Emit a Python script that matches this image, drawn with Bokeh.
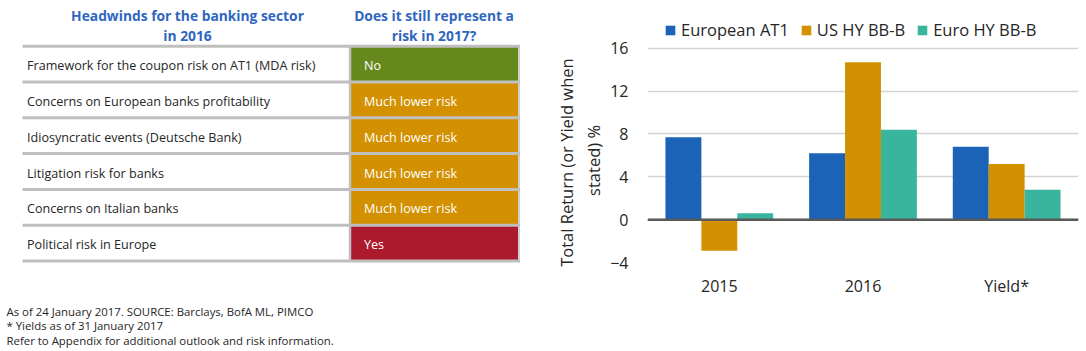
from bokeh.plotting import figure
from bokeh.models import (Range1d, FactorRange, Legend, LegendItem, Span,
                          ColumnDataSource, FixedTicker)
from bokeh.layouts import row
from bokeh.transform import dodge
from bokeh.core.properties import value
from bokeh.embed import file_html
from bokeh.resources import INLINE

FONT = "Open Sans"

# ---------------- table data ----------------
headwinds = [
    "Framework for the coupon risk on AT1 (MDA risk)",
    "Concerns on European banks profitability",
    "Idiosyncratic events (Deutsche Bank)",
    "Litigation risk for banks",
    "Concerns on Italian banks",
    "Political risk in Europe",
]
risk_2017 = ["No", "Much lower risk", "Much lower risk", "Much lower risk",
             "Much lower risk", "Yes"]
risk_colors = ["#66891e", "#d39000", "#d39000", "#d39000", "#d39000", "#ab1a2d"]
header_left = ["Headwinds for the banking sector", "in 2016"]
header_right = ["Does it still represent a", "risk in 2017?"]
footnotes = [
    "As of 24 January 2017. SOURCE: Barclays, BofA ML, PIMCO",
    "* Yields as of 31 January 2017",
    "Refer to Appendix for additional outlook and risk information.",
]

# ---------------- chart data ----------------
categories = ["2015", "2016", "Yield*"]
series_names = ["European AT1", "US HY BB-B", "Euro HY BB-B"]
european_at1 = [7.7, 6.2, 6.8]
us_hy_bb_b = [-2.9, 14.7, 5.2]
euro_hy_bb_b = [0.6, 8.4, 2.8]
series_colors = ["#1a63b7", "#d39000", "#3ab59d"]
y_ticks = [-4, 0, 4, 8, 12, 16]
y_label_lines = ["Total  Return  (or Yield when", "stated)  %"]

# ---------------- table figure ----------------
TW, H = 545, 351
t = figure(width=TW, height=H, x_range=Range1d(0, TW), y_range=Range1d(H, 0),
           toolbar_location=None, output_backend="svg", min_border=0)
t.outline_line_color = None
t.axis.visible = False
t.grid.visible = False
t.frame_align = False

row_top, row_h = 45.7, 35.8
n = len(headwinds)
tops = [row_top + i * row_h for i in range(n)]
bots = [tp + row_h for tp in tops]
mids = [tp + row_h / 2 + 1.5 for tp in tops]
bounds = [row_top + i * row_h for i in range(n + 1)]
cell_l, cell_r = 350.0, 517.5

t.quad(left=cell_l, right=cell_r, top=tops, bottom=bots,
       fill_color=risk_colors, line_color=None)
t.segment(x0=22, x1=519.5, y0=bounds, y1=bounds,
          line_color="#bfbfbf", line_width=3)
t.segment(x0=[cell_l - 0.5, cell_r + 1], x1=[cell_l - 0.5, cell_r + 1],
          y0=row_top, y1=bounds[-1], line_color="#bfbfbf", line_width=[2.5, 1.5])

t.text(x=26.5, y=mids, text=headwinds, text_font=value(FONT),
       text_font_size="12.6px", text_baseline="middle", text_color="#262626")
t.text(x=363.5, y=mids, text=risk_2017, text_font=value(FONT),
       text_font_size="12.6px", text_baseline="middle", text_color="white")
t.text(x=187, y=[14.5, 35], text=header_left, text_font=value(FONT),
       text_font_size="13.8px", text_font_style="bold", text_align="center",
       text_baseline="middle", text_color="#2e66c0")
t.text(x=433.5, y=[14.5, 35], text=header_right, text_font=value(FONT),
       text_font_size="13.8px", text_font_style="bold", text_align="center",
       text_baseline="middle", text_color="#2e66c0")
t.text(x=6, y=[310.7, 324.5, 340], text=footnotes, text_font=value(FONT),
       text_font_size="11.4px", text_baseline="middle", text_color="#262626")

# ---------------- chart figure ----------------
CW = 1086 - TW
FRAME_TOP, FRAME_BOTTOM = 15, 261.7
PX_PER_UNIT = (261.7 - 47.7) / 20.0
y_max = 16 + (47.7 - FRAME_TOP) / PX_PER_UNIT

p = figure(width=CW, height=H, x_range=FactorRange(*categories, range_padding=0),
           y_range=Range1d(-4, y_max), toolbar_location=None, output_backend="svg",
           min_border_left=102, min_border_right=8, min_border_top=FRAME_TOP,
           min_border_bottom=int(round(H - FRAME_BOTTOM)))
p.outline_line_color = None
p.frame_align = False

src = ColumnDataSource(dict(cat=categories, a=european_at1, b=us_hy_bb_b,
                            c=euro_hy_bb_b))
renderers = []
for col, off, colr in zip(["a", "b", "c"], [-0.25, 0.0, 0.25], series_colors):
    r = p.vbar(x=dodge("cat", off, range=p.x_range), top=col, width=0.25,
               source=src, fill_color=colr, line_color=None)
    renderers.append(r)

p.add_layout(Span(location=0, dimension="width", line_color="#595959",
                  line_width=2.5))

p.xgrid.grid_line_color = None
p.ygrid.grid_line_color = "#d4d4d4"
p.ygrid.grid_line_width = 1.5
p.yaxis.ticker = FixedTicker(ticks=y_ticks)

for ax in (p.xaxis, p.yaxis):
    ax.axis_line_color = None
    ax.major_tick_line_color = None
    ax.minor_tick_line_color = None
    ax.major_tick_out = 0
    ax.major_tick_in = 0
    ax.minor_tick_out = 0
    ax.major_label_text_font = FONT
    ax.major_label_text_font_size = "16px"
    ax.major_label_text_color = "#262626"

p.xaxis.major_label_standoff = 12
p.yaxis.major_label_standoff = 19
# non-breaking padding at the end of each line nudges the centred label down
pad = "\u00a0" * 9
p.yaxis.axis_label = "\n".join(line + pad for line in y_label_lines)
p.yaxis.axis_label_text_font = FONT
p.yaxis.axis_label_text_font_size = "16.5px"
p.yaxis.axis_label_text_font_style = "normal"
p.yaxis.axis_label_text_color = "#262626"
p.yaxis.axis_label_standoff = 2

frame_h = FRAME_BOTTOM - FRAME_TOP
legend = Legend(
    items=[LegendItem(label=s, renderers=[r]) for s, r in zip(series_names, renderers)],
    orientation="horizontal", location=(17, frame_h - 26),
    label_text_font=FONT, label_text_font_size="16.5px", label_text_color="#262626",
    glyph_width=12, glyph_height=12, label_standoff=5, spacing=11,
    padding=0, margin=0, border_line_color=None, background_fill_alpha=0,
)
p.add_layout(legend)

layout = row(t, p)
open("out.html", "w").write(file_html(layout, INLINE))
